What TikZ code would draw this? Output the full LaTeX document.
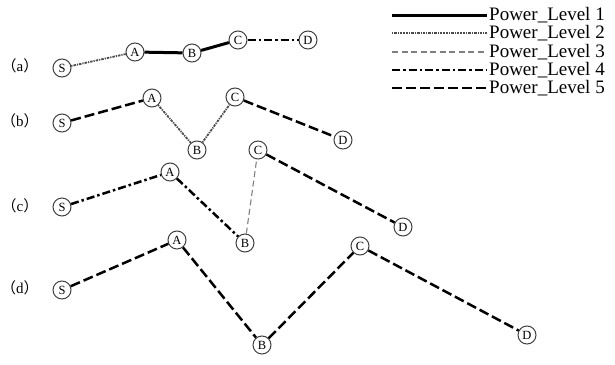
\documentclass[tikz,border=0pt]{standalone}
\usepackage{fontspec}
\setmainfont{Liberation Serif}
\newfontfamily\cjk{Noto Sans CJK SC}
\begin{document}
\begin{tikzpicture}[x=1pt,y=-1pt,
  nd/.style={circle,draw=black!75,line width=1pt,inner sep=0pt,minimum size=18pt,font=\fontsize{12.5}{12.5}\selectfont},
  lab/.style={font=\fontsize{15}{15}\selectfont,inner sep=0pt},
  pl1/.style={line width=3pt},
  pl2/.style={line width=1.8pt,black!70,dash pattern=on 1.2pt off 1pt on 2.5pt off 1pt},
  pl3/.style={line width=1.1pt,black!50,dash pattern=on 6pt off 3.5pt},
  pl4/.style={line width=2.5pt,dash pattern=on 8pt off 3pt on 2.5pt off 3pt},
  pl5/.style={line width=2.5pt,dash pattern=on 10pt off 4pt},
  leg/.style={font=\fontsize{19}{19}\selectfont,anchor=west,inner sep=0pt}]
\useasboundingbox (0,0) rectangle (615,364);
% legend
\foreach \i/\y in {1/15,2/33,3/52,4/70,5/88}{
  \coordinate (la\i) at (392,\y);
  \coordinate (lb\i) at (487,\y);
  \node[leg] (lt\i) at (489,\y) {Power\_Level \i};
}
\draw[pl1] (la1) -- (lb1);
\draw[pl2] (la2) -- (lb2);
\draw[pl3] (la3) -- (lb3);
\draw[pl4] (la4) -- (lb4);
\draw[pl5] (la5) -- (lb5);
% row labels
\node[lab] (ra) at (20,66) {{\cjk （}a{\cjk ）}};
\node[lab] (rb) at (20,121) {{\cjk （}b{\cjk ）}};
\node[lab] (rc) at (20,206) {{\cjk （}c{\cjk ）}};
\node[lab] (rd) at (20,288) {{\cjk （}d{\cjk ）}};
% (a)
\node[nd] (aS) at (62,68) {S};
\node[nd] (aA) at (135,52) {A};
\node[nd] (aB) at (192,53) {B};
\node[nd] (aC) at (238,40) {C};
\node[nd] (aD) at (308,40) {D};
\draw[pl2] (aS) -- (aA);
\draw[pl1] (aA) -- (aB);
\draw[pl1] (aB) -- (aC);
\draw[pl4] (aC) -- (aD);
% (b)
\node[nd] (bS) at (62,123) {S};
\node[nd] (bA) at (152,98) {A};
\node[nd] (bB) at (197,150) {B};
\node[nd] (bC) at (235,97) {C};
\node[nd] (bD) at (343,140) {D};
\draw[pl5] (bS) -- (bA);
\draw[pl2] (bA) -- (bB);
\draw[pl2] (bB) -- (bC);
\draw[pl5] (bC) -- (bD);
% (c)
\node[nd] (cS) at (62,207) {S};
\node[nd] (cA) at (170,172) {A};
\node[nd] (cB) at (245,243) {B};
\node[nd] (cC) at (258,150) {C};
\node[nd] (cD) at (403,227) {D};
\draw[pl4] (cS) -- (cA);
\draw[pl4] (cA) -- (cB);
\draw[pl3] (cB) -- (cC);
\draw[pl5] (cC) -- (cD);
% (d)
\node[nd] (dS) at (62,290) {S};
\node[nd] (dA) at (177,240) {A};
\node[nd] (dB) at (262,345) {B};
\node[nd] (dC) at (360,246) {C};
\node[nd] (dD) at (527,335) {D};
\draw[pl5] (dS) -- (dA);
\draw[pl5] (dA) -- (dB);
\draw[pl5] (dB) -- (dC);
\draw[pl5] (dC) -- (dD);
\end{tikzpicture}
\end{document}
